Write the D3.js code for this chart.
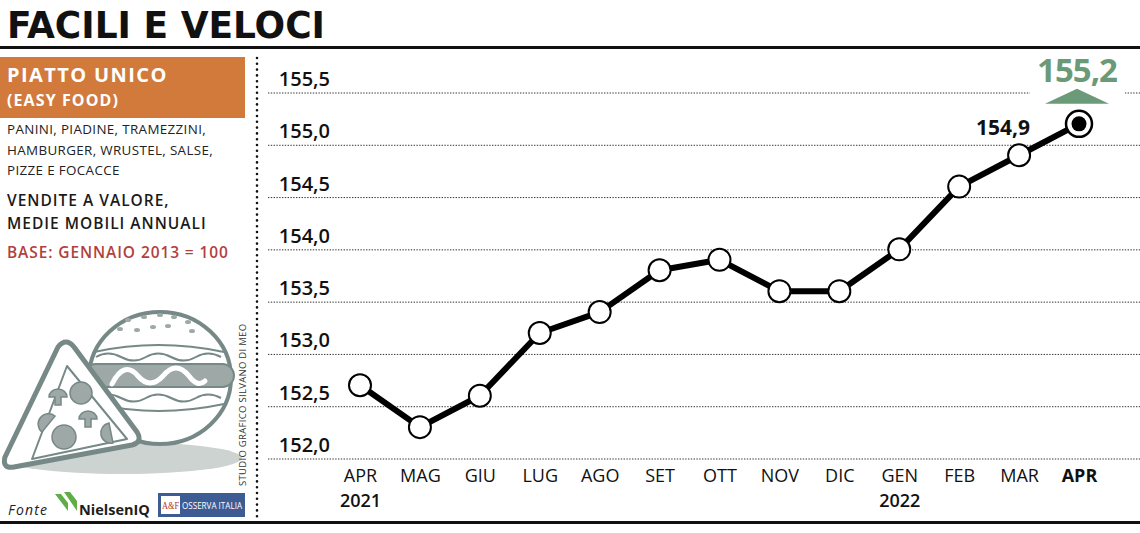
<!DOCTYPE html>
<html>
<head>
<meta charset="utf-8">
<script src="https://cdn.jsdelivr.net/npm/d3@7"></script>
<style>
  body { margin: 0; background: #fff; }
  svg { display: block; font-family: "Open Sans", "Noto Sans", sans-serif; }
</style>
</head>
<body>
<svg id="chart" width="1140" height="533"></svg>
<script>
// data
const periods = ["2021-04", "2021-05", "2021-06", "2021-07", "2021-08", "2021-09", "2021-10",
                 "2021-11", "2021-12", "2022-01", "2022-02", "2022-03", "2022-04"];
const monthLabels = ["APR", "MAG", "GIU", "LUG", "AGO", "SET", "OTT", "NOV", "DIC", "GEN", "FEB", "MAR", "APR"];
const yearLabels = ["2021", "", "", "", "", "", "", "", "", "2022", "", "", ""];
const values = [152.7, 152.3, 152.6, 153.2, 153.4, 153.8, 153.9, 153.6, 153.6, 154.0, 154.6, 154.9, 155.2];
const yTicks = [152.0, 152.5, 153.0, 153.5, 154.0, 154.5, 155.0, 155.5];

const fmt = d => d3.format(".1f")(d).replace(".", ",");

const svg = d3.select("#chart");

const x = d3.scalePoint()
    .domain(periods)
    .range([360, 1079]);

const y = d3.scaleLinear()
    .domain([152, 155.5])
    .range([458.5, 92.5]);

// title + rules
svg.append("text")
    .attr("x", 7)
    .attr("y", 38)
    .attr("font-family", "DejaVu Sans Condensed, DejaVu Sans")
    .attr("font-weight", "bold")
    .attr("font-size", 38)
    .attr("textLength", 318)
    .attr("lengthAdjust", "spacingAndGlyphs")
    .attr("fill", "#111")
    .text("FACILI E VELOCI");

svg.append("rect").attr("x", 0).attr("y", 46).attr("width", 1140).attr("height", 3).attr("fill", "#111");
svg.append("rect").attr("x", 0).attr("y", 521).attr("width", 1140).attr("height", 3).attr("fill", "#111");

// left panel
svg.append("rect")
    .attr("x", 0).attr("y", 57)
    .attr("width", 245).attr("height", 61)
    .attr("fill", "#d27a3c");

svg.append("text")
    .attr("x", 7).attr("y", 82)
    .attr("font-size", 20).attr("font-weight", "bold")
    .attr("fill", "#fff").attr("letter-spacing", 1.4)
    .text("PIATTO UNICO");

svg.append("text")
    .attr("x", 7).attr("y", 106)
    .attr("font-size", 16).attr("font-weight", "bold")
    .attr("fill", "#fff").attr("letter-spacing", 1.1)
    .text("(EASY FOOD)");

const descLines = ["PANINI, PIADINE, TRAMEZZINI,", "HAMBURGER, WRUSTEL, SALSE,", "PIZZE E FOCACCE"];
svg.selectAll(".desc")
    .data(descLines)
    .enter()
    .append("text")
    .attr("class", "desc")
    .attr("x", 7)
    .attr("y", (d, i) => 134 + i * 20.5)
    .attr("font-size", 13.4)
    .attr("letter-spacing", 0.35)
    .attr("fill", "#222")
    .text(d => d);

const noteLines = ["VENDITE A VALORE,", "MEDIE MOBILI ANNUALI"];
svg.selectAll(".note")
    .data(noteLines)
    .enter()
    .append("text")
    .attr("class", "note")
    .attr("x", 7)
    .attr("y", (d, i) => 206 + i * 23)
    .attr("font-size", 15.5)
    .attr("font-weight", 600)
    .attr("letter-spacing", 1)
    .attr("fill", "#1a1a1a")
    .text(d => d);

svg.append("text")
    .attr("x", 7).attr("y", 258)
    .attr("font-size", 15.5).attr("font-weight", 600)
    .attr("letter-spacing", 0.9)
    .attr("fill", "#b23f3d")
    .text("BASE: GENNAIO 2013 = 100");

// illustration (pizza + hamburger)
const ink = "#768987";
const tone = "#9ea9a7";
const art = svg.append("g");

art.append("ellipse")
    .attr("cx", 122).attr("cy", 458)
    .attr("rx", 120).attr("ry", 16)
    .attr("fill", "#cdd3d1");

art.append("ellipse")
    .attr("cx", 160).attr("cy", 378)
    .attr("rx", 71).attr("ry", 66)
    .attr("fill", "#fff").attr("stroke", ink).attr("stroke-width", 4);

art.append("path")
    .attr("d", "M94,352 Q158,338 224,352")
    .attr("fill", "none").attr("stroke", ink).attr("stroke-width", 2);
art.append("path")
    .attr("d", "M96,357 q12,-7 25,0 t25,0 t25,0 t25,0 t25,0")
    .attr("fill", "none").attr("stroke", ink).attr("stroke-width", 2);
art.append("path")
    .attr("d", "M96,398 q12,-7 25,0 t25,0 t25,0 t25,0 t25,0")
    .attr("fill", "none").attr("stroke", ink).attr("stroke-width", 2);
art.append("path")
    .attr("d", "M96,404 Q158,418 224,404")
    .attr("fill", "none").attr("stroke", ink).attr("stroke-width", 2);

art.append("rect")
    .attr("x", 84).attr("y", 364)
    .attr("width", 150).attr("height", 23).attr("rx", 11.5)
    .attr("fill", tone).attr("stroke", ink).attr("stroke-width", 2);

art.append("path")
    .attr("d", "M112,384 Q124,360 138,376 Q150,390 163,376 Q176,360 189,376 Q198,388 205,381")
    .attr("fill", "none").attr("stroke", "#fff").attr("stroke-width", 5).attr("stroke-linecap", "round");

const seeds = [[128, 320], [144, 317], [160, 315], [174, 317], [188, 322], [120, 329], [137, 330], [153, 327], [168, 326], [192, 331]];
art.selectAll(".seed")
    .data(seeds)
    .enter()
    .append("ellipse")
    .attr("class", "seed")
    .attr("cx", d => d[0]).attr("cy", d => d[1])
    .attr("rx", 3).attr("ry", 2)
    .attr("fill", tone);

art.append("path")
    .attr("d", "M58,347 Q66,337 74,347 L137,432 Q143,442 132,445 L14,467 Q2,469 5,457 Z")
    .attr("fill", "#fff").attr("stroke", ink).attr("stroke-width", 5).attr("stroke-linejoin", "round");
art.append("path")
    .attr("d", "M67,366 L127,439 L32,459 Z")
    .attr("fill", "none").attr("stroke", ink).attr("stroke-width", 2).attr("stroke-linejoin", "round");

const pepperoni = [[81, 393, 11], [64, 437, 12]];
art.selectAll(".pep")
    .data(pepperoni)
    .enter()
    .append("circle")
    .attr("class", "pep")
    .attr("cx", d => d[0]).attr("cy", d => d[1]).attr("r", d => d[2])
    .attr("fill", tone).attr("stroke", ink).attr("stroke-width", 1.5);

art.append("path")
    .attr("d", "M42,432 A10,10 0 0 1 55,416 Z")
    .attr("fill", tone).attr("stroke", ink).attr("stroke-width", 1.5);
art.append("path")
    .attr("d", "M113,443 A10,10 0 0 1 109,423 Z")
    .attr("fill", tone).attr("stroke", ink).attr("stroke-width", 1.5);

const mushrooms = [[58, 397], [88, 419]];
art.selectAll(".mush")
    .data(mushrooms)
    .enter()
    .append("path")
    .attr("class", "mush")
    .attr("d", d => `M${d[0] - 9},${d[1]} A9,8 0 0 1 ${d[0] + 9},${d[1]} L${d[0] + 3},${d[1]} L${d[0] + 3},${d[1] + 8} L${d[0] - 3},${d[1] + 8} L${d[0] - 3},${d[1]} Z`)
    .attr("fill", tone).attr("stroke", ink).attr("stroke-width", 1.5);

// credit
svg.append("text")
    .attr("transform", "translate(246,486) rotate(-90)")
    .attr("font-size", 9.5)
    .attr("fill", "#333")
    .attr("letter-spacing", 0.3)
    .text("STUDIO GRAFICO SILVANO DI MEO");

// source line
svg.append("text")
    .attr("x", 8).attr("y", 515)
    .attr("font-size", 14).attr("font-style", "italic")
    .attr("letter-spacing", 1.2)
    .attr("fill", "#222")
    .text("Fonte");

svg.append("path")
    .attr("d", "M55,494 L61,494 L68,503 L68,511 Z M64,492 L70,492 L77,501 L77,511 Z")
    .attr("fill", "#5fae45");
svg.append("text")
    .attr("x", 79).attr("y", 515)
    .attr("font-size", 14.5).attr("font-weight", "bold")
    .attr("fill", "#1d1d1d")
    .text("NielsenIQ");

svg.append("rect")
    .attr("x", 158).attr("y", 493).attr("width", 87).attr("height", 24)
    .attr("fill", "#3d5c93");
svg.append("rect")
    .attr("x", 161).attr("y", 496).attr("width", 19).attr("height", 18)
    .attr("fill", "#fff");
svg.append("text")
    .attr("x", 162).attr("y", 509)
    .attr("font-family", "Liberation Serif, serif")
    .attr("font-size", 10).attr("fill", "#b7312c")
    .attr("textLength", 17)
    .attr("lengthAdjust", "spacingAndGlyphs")
    .text("A&F");
svg.append("text")
    .attr("x", 182).attr("y", 509)
    .attr("font-size", 8.5).attr("fill", "#fff")
    .attr("textLength", 60)
    .attr("lengthAdjust", "spacingAndGlyphs")
    .text("OSSERVA ITALIA");

// vertical dotted separator
svg.append("line")
    .attr("x1", 257).attr("x2", 257)
    .attr("y1", 58).attr("y2", 518)
    .attr("stroke", "#111").attr("stroke-width", 2.6)
    .attr("stroke-linecap", "round")
    .attr("stroke-dasharray", "0,5.8");

// y grid + labels
const gridX = 268;
const yAxis = svg.append("g")
    .attr("transform", `translate(${gridX},0)`)
    .call(d3.axisLeft(y)
        .tickValues(yTicks)
        .tickSize(-(1140 - gridX))
        .tickFormat(fmt));

yAxis.select(".domain").remove();
yAxis.selectAll(".tick line")
    .attr("stroke", "#333")
    .attr("stroke-width", 1)
    .attr("stroke-dasharray", "1.4,1.4");
yAxis.selectAll(".tick text")
    .attr("x", 330 - gridX)
    .attr("dy", -7)
    .attr("font-family", "Open Sans, sans-serif")
    .attr("font-size", 20)
    .attr("font-weight", 600)
    .attr("fill", "#111");

// gap in the top gridline behind the annotation
const last = values.length - 1;
svg.append("rect")
    .attr("x", x(periods[last]) - 49)
    .attr("y", y(155.5) - 3)
    .attr("width", 95).attr("height", 6)
    .attr("fill", "#fff");

// x axis
const xAxis = svg.append("g")
    .attr("transform", "translate(0,466)")
    .call(d3.axisBottom(x)
        .tickSize(0)
        .tickPadding(3)
        .tickFormat((d, i) => monthLabels[i]));

xAxis.select(".domain").remove();
xAxis.selectAll(".tick text")
    .attr("font-family", "Open Sans, sans-serif")
    .attr("font-size", 18)
    .attr("font-weight", (d, i) => i === last ? "bold" : "normal")
    .attr("fill", "#111");

xAxis.selectAll(".tick")
    .append("text")
    .attr("y", 41)
    .attr("text-anchor", "middle")
    .attr("font-family", "Open Sans, sans-serif")
    .attr("font-size", 18)
    .attr("font-weight", 600)
    .attr("fill", "#111")
    .text((d, i) => yearLabels[i]);

// line
const line = d3.line()
    .x((d, i) => x(periods[i]))
    .y(d => y(d));

svg.append("path")
    .datum(values)
    .attr("d", line)
    .attr("fill", "none")
    .attr("stroke", "#000")
    .attr("stroke-width", 6)
    .attr("stroke-linejoin", "round");

svg.selectAll(".pt")
    .data(values.slice(0, last))
    .enter()
    .append("circle")
    .attr("class", "pt")
    .attr("cx", (d, i) => x(periods[i]))
    .attr("cy", d => y(d))
    .attr("r", 11)
    .attr("fill", "#fff")
    .attr("stroke", "#000")
    .attr("stroke-width", 2);

svg.append("circle")
    .attr("cx", x(periods[last]))
    .attr("cy", y(values[last]))
    .attr("r", 13)
    .attr("fill", "#fff")
    .attr("stroke", "#000")
    .attr("stroke-width", 2.5);
svg.append("circle")
    .attr("cx", x(periods[last]))
    .attr("cy", y(values[last]))
    .attr("r", 7.5)
    .attr("fill", "#000");

// value labels
svg.append("text")
    .attr("x", x(periods[last - 1]) - 16)
    .attr("y", y(values[last - 1]) - 20)
    .attr("text-anchor", "middle")
    .attr("font-size", 21)
    .attr("font-weight", "bold")
    .attr("fill", "#111")
    .text(fmt(values[last - 1]));

const green = "#6b9a78";
const lx = x(periods[last]) - 2;
const ly = y(values[last]);
svg.append("text")
    .attr("x", lx)
    .attr("y", ly - 42)
    .attr("text-anchor", "middle")
    .attr("font-size", 33)
    .attr("font-weight", "bold")
    .attr("letter-spacing", -1)
    .attr("fill", green)
    .text(fmt(values[last]));

svg.append("path")
    .attr("d", `M${lx},${ly - 35} L${lx + 32},${ly - 20} L${lx - 32},${ly - 20} Z`)
    .attr("fill", green);
</script>
</body>
</html>
